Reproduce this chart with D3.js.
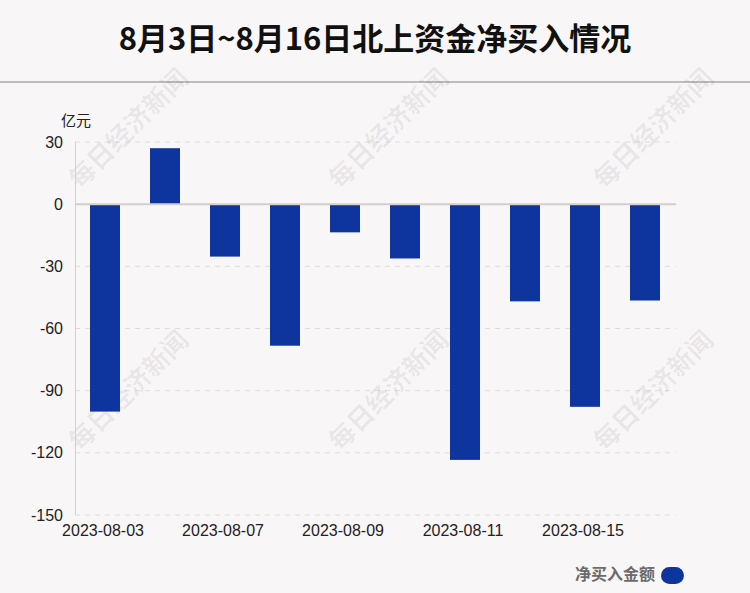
<!DOCTYPE html>
<html><head><meta charset="utf-8">
<script src="https://cdn.jsdelivr.net/npm/d3@7"></script>
<style>
html,body{margin:0;padding:0;background:#f9f6f7;}
svg{display:block;font-family:"Liberation Sans",Arial,"Noto Sans CJK SC",sans-serif;}
</style></head>
<body><svg id="c" width="750" height="593"></svg>
<script>
const dates = ["2023-08-03","2023-08-04","2023-08-07","2023-08-08","2023-08-09","2023-08-10","2023-08-11","2023-08-14","2023-08-15","2023-08-16"];
const values = [-100.1, 27.0, -25.3, -68.3, -13.6, -26.2, -123.4, -46.9, -97.8, -46.5];
const yTicks = [30, 0, -30, -60, -90, -120, -150];
const shownLabels = ["2023-08-03","2023-08-07","2023-08-09","2023-08-11","2023-08-15"];
const title = "8月3日~8月16日北上资金净买入情况";
const unit = "亿元";
const legendName = "净买入金额";
const watermark = "每日经济新闻";

const svg = d3.select("#c");
const W = 750, H = 593;
const m = {left:75, right:75, top:142, bottom:78};
const color = "#0d359d";

svg.append("rect").attr("width",W).attr("height",H).attr("fill","#f9f6f7");

// title
svg.append("text").attr("x",375).attr("y",50).attr("text-anchor","middle")
  .attr("font-size",31).attr("font-weight","bold").attr("fill","#111")
  .attr("font-family","'Noto Sans CJK SC',sans-serif").text(title);
svg.append("line").attr("x1",0).attr("x2",W).attr("y1",82).attr("y2",82)
  .attr("stroke","#bdbdbd").attr("stroke-width",2);

const x = d3.scaleBand().domain(dates).range([m.left, W - m.right]).paddingInner(0.5).paddingOuter(0.25);
const y = d3.scaleLinear().domain([-150, 30]).range([H - m.bottom, m.top]);

// grid
const g = svg.append("g");
g.selectAll("line.grid").data(yTicks.filter(d=>d!==0)).join("line")
  .attr("x1",m.left).attr("x2",W-m.right+1).attr("y1",d=>y(d)).attr("y2",d=>y(d))
  .attr("stroke","#e2dcdd").attr("stroke-width",1).attr("stroke-dasharray","5,5");

// watermarks
const wmPos = [[130,130],[390,130],[655,130],[130,392],[390,392],[655,392]];
svg.append("g").selectAll("text").data(wmPos).join("text")
  .attr("transform",d=>`translate(${d[0]},${d[1]}) rotate(-45)`)
  .attr("text-anchor","middle").attr("dominant-baseline","middle")
  .attr("font-size",26).attr("font-weight","bold")
  .attr("font-family","'Noto Sans CJK SC',serif")
  .attr("fill","rgba(0,0,0,0.065)").text(watermark);

// y axis line
svg.append("line").attr("x1",m.left+0.5).attr("x2",m.left+0.5).attr("y1",y(30)).attr("y2",y(-150))
  .attr("stroke","#d6d0d1").attr("stroke-width",1);

// bars
svg.append("g").selectAll("rect").data(values).join("rect")
  .attr("x",(d,i)=>x(dates[i]))
  .attr("width",x.bandwidth())
  .attr("y",d=>y(Math.max(0,d)))
  .attr("height",d=>Math.abs(y(d)-y(0)))
  .attr("fill",color);

// zero line
svg.append("line").attr("x1",m.left).attr("x2",W-m.right+1).attr("y1",y(0)).attr("y2",y(0))
  .attr("stroke","#d4cecf").attr("stroke-width",2);

// y tick labels
svg.append("g").selectAll("text").data(yTicks).join("text")
  .attr("x",m.left-12).attr("y",d=>y(d)).attr("dy","0.35em").attr("text-anchor","end")
  .attr("font-size",16).attr("fill","#222").text(d=>d);

svg.append("text").attr("x",61).attr("y",126).attr("font-size",15).attr("fill","#222")
  .attr("font-family","'Noto Sans CJK SC',sans-serif").text(unit);

// x labels
svg.append("g").selectAll("text").data(shownLabels).join("text")
  .attr("x",d=>x(d)+x.bandwidth()/2 - 2).attr("y",536).attr("text-anchor","middle")
  .attr("font-size",16).attr("fill","#222").text(d=>d);

// legend
svg.append("text").attr("x",655).attr("y",580).attr("text-anchor","end")
  .attr("font-size",16).attr("font-weight","bold").attr("fill","#6b6b6b")
  .attr("font-family","'Noto Sans CJK SC',sans-serif").text(legendName);
svg.append("rect").attr("x",661).attr("y",567).attr("width",23).attr("height",17)
  .attr("rx",8.5).attr("ry",8.5).attr("fill",color);
</script></body></html>
